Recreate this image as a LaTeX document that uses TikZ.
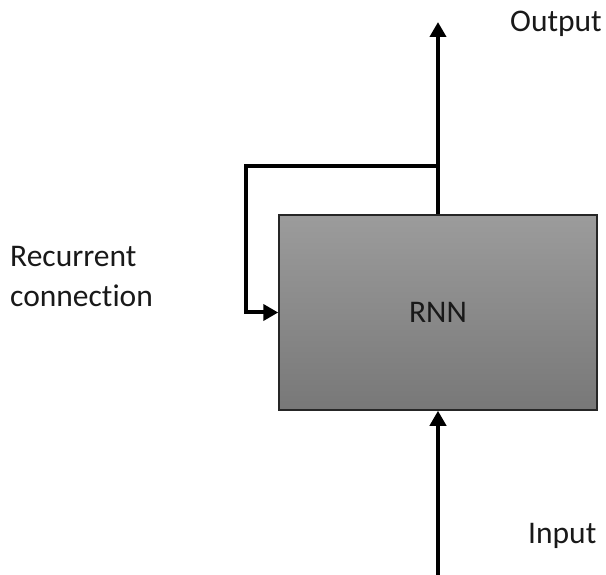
\documentclass[tikz,border=0pt]{standalone}
\usepackage{fontspec}
\setmainfont[Ligatures={NoCommon}]{Carlito}
\usetikzlibrary{arrows.meta}

\tikzset{
  flow/.style={line width=4pt, draw=black, -{Triangle[length=15pt,width=16pt]}},
  cell/.style={rectangle, draw=black!85, line width=1.5pt,
    top color=black!39, bottom color=black!53,
    minimum width=318pt, minimum height=195pt, inner sep=0pt,
    text=black!90, font=\fontsize{31.5}{39}\selectfont},
  lbl/.style={inner sep=0pt, text=black!90, font=\fontsize{31.5}{39}\selectfont}
}

\begin{document}
\begin{tikzpicture}[x=1pt, y=-1pt]
  \useasboundingbox (0,0) rectangle (606,575);

  % the recurrent cell
  \node[cell] (rnn) at (438,312.5) {RNN};

  % input from below
  \coordinate (inbot) at (438,576);
  \draw[flow] (inbot) -- (rnn.south);

  % output upwards, with the feedback branch
  \coordinate (outtip) at (438,22);
  \coordinate (split) at (438,166);
  \coordinate (loopcorner) at (246,166);
  \draw[flow] (rnn.north) -- (outtip);
  \draw[flow] (split) -- (loopcorner) |- (rnn.west);

  % labels
  \node[lbl, anchor=base west] (outlbl) at (510,32) {Output};
  \node[lbl, anchor=base west] (inlbl) at (528,543) {Input};
  \node[lbl, anchor=base west] (reclbl1) at (10,267) {Recurrent};
  \node[lbl, anchor=base west] (reclbl2) at (10,306) {connection};
\end{tikzpicture}
\end{document}
